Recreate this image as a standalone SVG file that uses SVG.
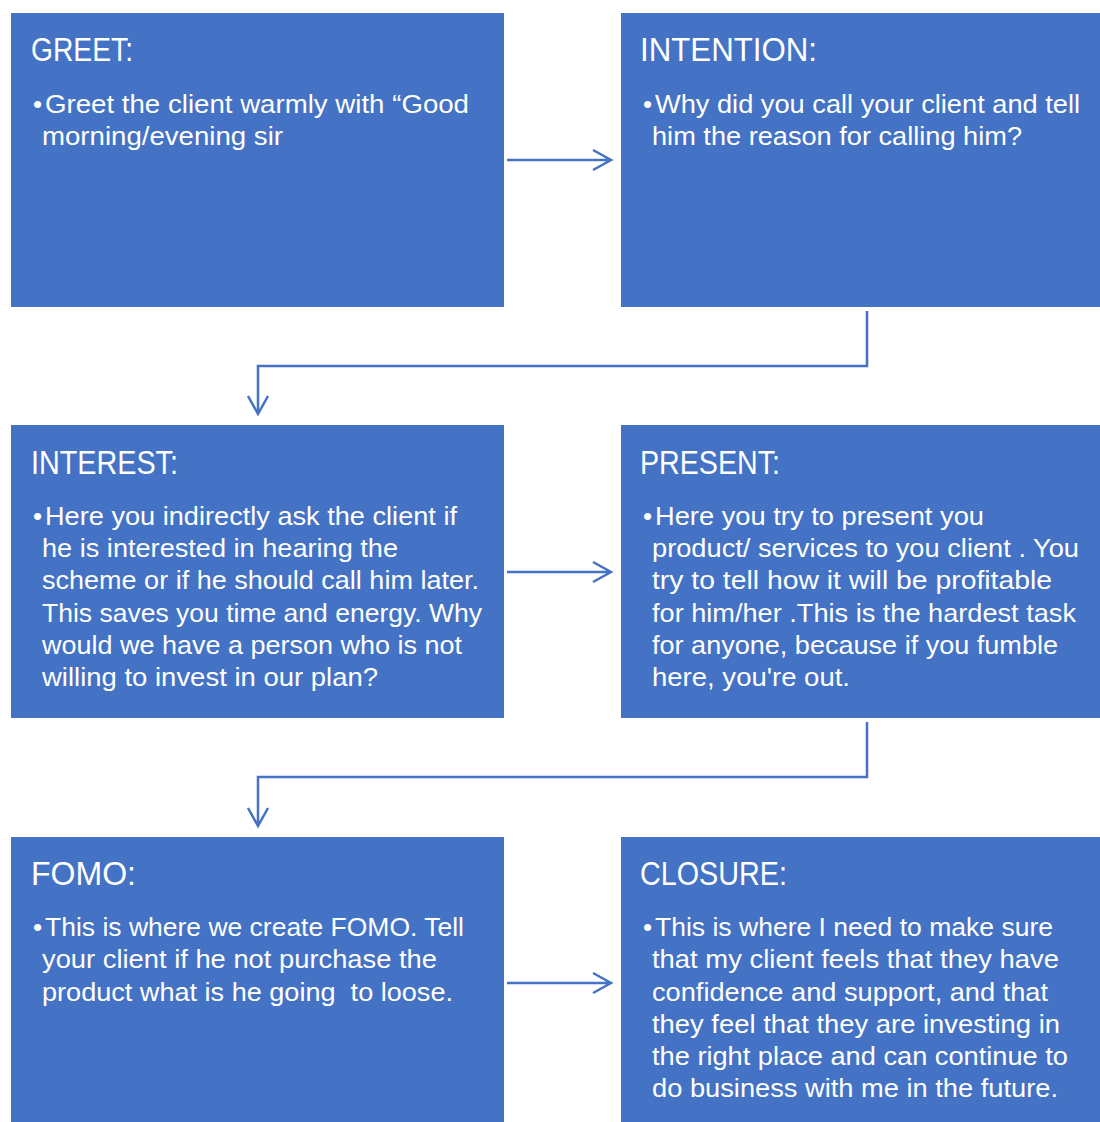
<svg xmlns="http://www.w3.org/2000/svg" width="1100" height="1122" viewBox="0 0 1100 1122">
<style>
.box{fill:#4472C4}
.t{fill:#fff;font-family:"Liberation Sans",Arial,sans-serif;font-size:34px}
.b{fill:#fff;font-family:"Liberation Sans",Arial,sans-serif;font-size:26px}
.c{fill:none;stroke:#4472C4;stroke-width:2.5}
</style>
<rect width="1100" height="1122" fill="#fff"/>
<g id="connectors">
<path class="c" d="M507 160H611M593 150L611 160L593 170"/>
<path class="c" d="M507 572H611M593 562L611 572L593 582"/>
<path class="c" d="M507 983H611M593 973L611 983L593 993"/>
<path class="c" d="M867 311V366H258V414M248 396L258 414L268 396"/>
<path class="c" d="M867 722V777H258V826M248 808L258 826L268 808"/>
</g>
<g id="greet">
<rect class="box" x="11" y="13" width="493" height="294"/>
<text class="t" x="31" y="61" textLength="102" lengthAdjust="spacingAndGlyphs">GREET:</text>
<text class="b" x="33" y="113">•</text>
<text class="b" x="45" y="113" textLength="424" lengthAdjust="spacingAndGlyphs">Greet the client warmly with “Good</text>
<text class="b" x="42" y="145" textLength="241" lengthAdjust="spacingAndGlyphs">morning/evening sir</text>
</g>
<g id="intention">
<rect class="box" x="621" y="13" width="479" height="294"/>
<text class="t" x="640" y="61" textLength="177" lengthAdjust="spacingAndGlyphs">INTENTION:</text>
<text class="b" x="643" y="113">•</text>
<text class="b" x="655" y="113" textLength="425" lengthAdjust="spacingAndGlyphs">Why did you call your client and tell</text>
<text class="b" x="652" y="145" textLength="370" lengthAdjust="spacingAndGlyphs">him the reason for calling him?</text>
</g>
<g id="interest">
<rect class="box" x="11" y="425" width="493" height="293"/>
<text class="t" x="31" y="474" textLength="147" lengthAdjust="spacingAndGlyphs">INTEREST:</text>
<text class="b" x="33" y="525">•</text>
<text class="b" x="45" y="525" textLength="412" lengthAdjust="spacingAndGlyphs">Here you indirectly ask the client if</text>
<text class="b" x="42" y="557" textLength="356" lengthAdjust="spacingAndGlyphs">he is interested in hearing the</text>
<text class="b" x="42" y="589" textLength="437" lengthAdjust="spacingAndGlyphs">scheme or if he should call him later.</text>
<text class="b" x="42" y="622" textLength="440" lengthAdjust="spacingAndGlyphs">This saves you time and energy. Why</text>
<text class="b" x="42" y="654" textLength="420" lengthAdjust="spacingAndGlyphs">would we have a person who is not</text>
<text class="b" x="42" y="686" textLength="336" lengthAdjust="spacingAndGlyphs">willing to invest in our plan?</text>
</g>
<g id="present">
<rect class="box" x="621" y="425" width="479" height="293"/>
<text class="t" x="640" y="474" textLength="140" lengthAdjust="spacingAndGlyphs">PRESENT:</text>
<text class="b" x="643" y="525">•</text>
<text class="b" x="655" y="525" textLength="329" lengthAdjust="spacingAndGlyphs">Here you try to present you</text>
<text class="b" x="652" y="557" textLength="427" lengthAdjust="spacingAndGlyphs">product/ services to you client . You</text>
<text class="b" x="652" y="589" textLength="400" lengthAdjust="spacingAndGlyphs">try to tell how it will be profitable</text>
<text class="b" x="652" y="622" textLength="424" lengthAdjust="spacingAndGlyphs">for him/her .This is the hardest task</text>
<text class="b" x="652" y="654" textLength="406" lengthAdjust="spacingAndGlyphs">for anyone, because if you fumble</text>
<text class="b" x="652" y="686" textLength="198" lengthAdjust="spacingAndGlyphs">here, you're out.</text>
</g>
<g id="fomo">
<rect class="box" x="11" y="837" width="493" height="285"/>
<text class="t" x="31" y="885" textLength="105" lengthAdjust="spacingAndGlyphs">FOMO:</text>
<text class="b" x="33" y="936">•</text>
<text class="b" x="45" y="936" textLength="419" lengthAdjust="spacingAndGlyphs">This is where we create FOMO. Tell</text>
<text class="b" x="42" y="968" textLength="395" lengthAdjust="spacingAndGlyphs">your client if he not purchase the</text>
<text class="b" x="42" y="1001" textLength="411" lengthAdjust="spacingAndGlyphs" xml:space="preserve">product what is he going  to loose.</text>
</g>
<g id="closure">
<rect class="box" x="621" y="837" width="479" height="285"/>
<text class="t" x="640" y="885" textLength="147" lengthAdjust="spacingAndGlyphs">CLOSURE:</text>
<text class="b" x="643" y="936">•</text>
<text class="b" x="655" y="936" textLength="398" lengthAdjust="spacingAndGlyphs">This is where I need to make sure</text>
<text class="b" x="652" y="968" textLength="407" lengthAdjust="spacingAndGlyphs">that my client feels that they have</text>
<text class="b" x="652" y="1001" textLength="396" lengthAdjust="spacingAndGlyphs">confidence and support, and that</text>
<text class="b" x="652" y="1033" textLength="408" lengthAdjust="spacingAndGlyphs">they feel that they are investing in</text>
<text class="b" x="652" y="1065" textLength="416" lengthAdjust="spacingAndGlyphs">the right place and can continue to</text>
<text class="b" x="652" y="1097" textLength="406" lengthAdjust="spacingAndGlyphs">do business with me in the future.</text>
</g>
</svg>
